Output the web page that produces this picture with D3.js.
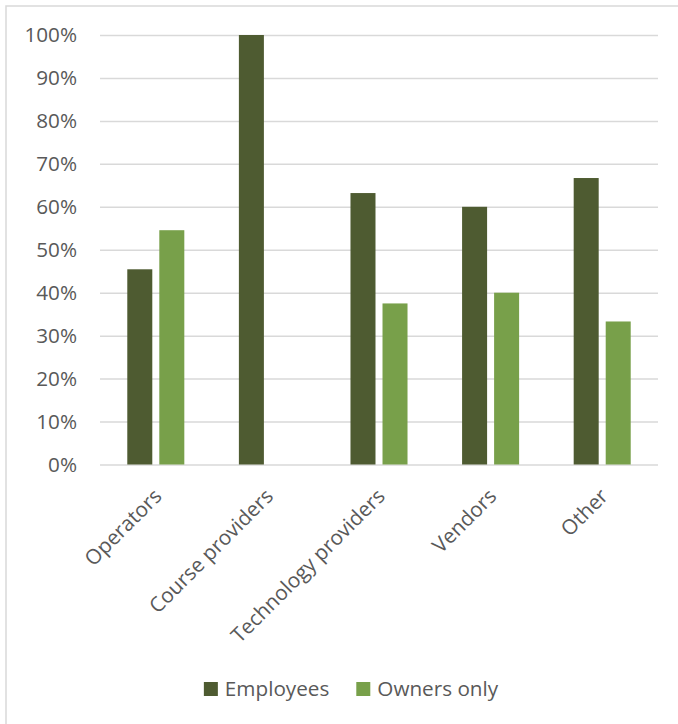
<!DOCTYPE html>
<html>
<head>
<meta charset="utf-8">
<script src="https://cdn.jsdelivr.net/npm/d3@7"></script>
<style>
  html, body { margin: 0; padding: 0; background: #fff; }
  svg { display: block; }
  text { font-family: "Open Sans", sans-serif; fill: #595959; }
</style>
</head>
<body>
<svg id="chart" width="678" height="724"></svg>
<script>
// Share of respondents by business type
const categories = ["Operators", "Course providers", "Technology providers", "Vendors", "Other"];
const seriesNames = ["Employees", "Owners only"];
const employees = [0.4545, 1.0, 0.632, 0.60, 0.667];
const ownersOnly = [0.5455, 0, 0.375, 0.40, 0.333];
const yTicks = [0, 0.1, 0.2, 0.3, 0.4, 0.5, 0.6, 0.7, 0.8, 0.9, 1.0];
const colors = ["#4E5B31", "#78A04A"];

const svg = d3.select("#chart");
const fontSize = 20.7;

// outer frame
svg.append("rect")
  .attr("x", 6).attr("y", 6)
  .attr("width", 700).attr("height", 740)
  .attr("fill", "none")
  .attr("stroke", "#D9D9D9")
  .attr("stroke-width", 1.5);

const plot = { left: 100, right: 658, top: 35, bottom: 464.5 };

const y = d3.scaleLinear().domain([0, 1]).range([plot.bottom, plot.top]);
const x0 = d3.scaleBand().domain(categories)
  .range([plot.left, plot.right])
  .paddingInner(0.489).paddingOuter(0.2445);
const x1 = d3.scaleBand().domain(seriesNames)
  .range([0, x0.bandwidth()])
  .paddingInner(0.219);

// y axis with gridlines
const yAxis = svg.append("g")
  .attr("transform", `translate(${plot.left},0)`)
  .call(d3.axisLeft(y)
    .tickValues(yTicks)
    .tickFormat(d3.format(".0%"))
    .tickSize(-(plot.right - plot.left))
    .tickPadding(23));
yAxis.select(".domain").remove();
yAxis.selectAll(".tick line")
  .attr("stroke", "#D9D9D9")
  .attr("stroke-width", 1.5);
yAxis.selectAll(".tick text")
  .attr("font-size", fontSize)
  .attr("font-family", "Open Sans, sans-serif")
  .attr("fill", "#595959");

// bars
const rows = categories.map((c, i) => ({
  category: c,
  values: [
    { series: seriesNames[0], value: employees[i] },
    { series: seriesNames[1], value: ownersOnly[i] }
  ]
}));

const groups = svg.append("g").selectAll("g")
  .data(rows)
  .join("g")
  .attr("transform", d => `translate(${x0(d.category)},0)`);

groups.selectAll("rect")
  .data(d => d.values)
  .join("rect")
  .attr("x", d => x1(d.series))
  .attr("width", x1.bandwidth())
  .attr("y", d => y(d.value))
  .attr("height", d => y(0) - y(d.value))
  .attr("fill", (d, i) => colors[i]);

// category labels, rotated
svg.append("g").selectAll("text")
  .data(categories)
  .join("text")
  .attr("transform", d => `translate(${x0(d) + x0.bandwidth() / 2 + 2},${plot.bottom + 28}) rotate(-45)`)
  .attr("text-anchor", "end")
  .attr("dy", "0.35em")
  .attr("font-size", fontSize)
  .text(d => d);

// legend
const legend = svg.append("g");
const items = legend.selectAll("g")
  .data(seriesNames)
  .join("g");
items.append("rect")
  .attr("width", 14).attr("height", 14)
  .attr("y", -14)
  .attr("fill", (d, i) => colors[i]);
items.append("text")
  .attr("x", 21)
  .attr("y", 0)
  .attr("font-size", fontSize)
  .text(d => d);

let offset = 0;
items.each(function () {
  const g = d3.select(this);
  g.attr("transform", `translate(${offset},0)`);
  const w = g.select("text").node().getComputedTextLength();
  offset += 21 + w + 27;
});
const legendWidth = offset - 27;
legend.attr("transform", `translate(${351 - legendWidth / 2},696)`);
</script>
</body>
</html>
